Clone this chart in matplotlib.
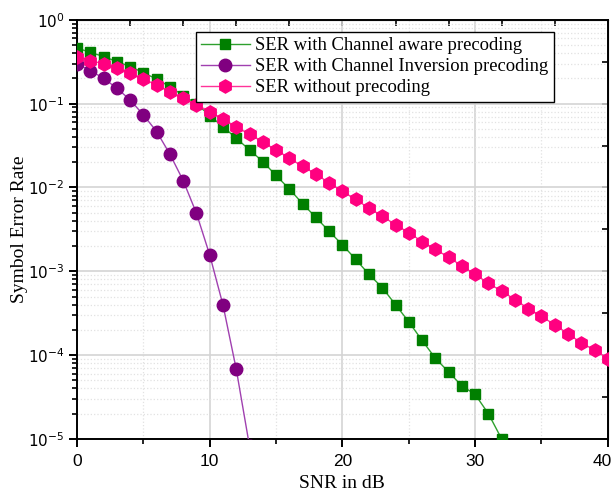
import numpy as np
import matplotlib
matplotlib.use("Agg")
from matplotlib import pyplot as plt
from matplotlib import transforms
from matplotlib.ticker import LogLocator, FixedLocator, NullFormatter

# SNR in dB
snr = list(range(0, 41))

# SER with channel aware precoding (0..32 dB)
ser_aware = [0.46, 0.41, 0.365, 0.318, 0.277, 0.235, 0.196, 0.160, 0.125, 0.100,
             0.072, 0.053, 0.0387, 0.0281, 0.0204, 0.0139, 0.0096, 0.0064, 0.0044, 0.0030,
             0.00207, 0.00139, 0.00092, 0.00064, 0.00040, 0.00025, 0.000150, 0.000092,
             0.000063, 0.000043, 0.000034, 0.000020, 0.000010]

# SER with channel inversion precoding (0..13 dB)
ser_inversion = [0.298, 0.248, 0.201, 0.153, 0.111, 0.0735, 0.0465, 0.025, 0.0121,
                 0.00493, 0.00157, 0.000397, 0.000068, 0.0000082]

# SER without precoding (0..40 dB)
ser_none = [0.365, 0.327, 0.298, 0.265, 0.231, 0.196, 0.168, 0.139, 0.116, 0.097,
            0.080, 0.0653, 0.0525, 0.0433, 0.0347, 0.0281, 0.0224, 0.0178, 0.0145, 0.0113,
            0.0090, 0.0072, 0.00566, 0.00458, 0.00358, 0.0029, 0.00226, 0.00183, 0.00147,
            0.00116, 0.00092, 0.00072, 0.00058, 0.00046, 0.00036, 0.00029, 0.00023,
            0.00018, 0.00014, 0.000115, 0.000091]

labels = ['SER with Channel aware precoding',
          'SER with Channel Inversion precoding',
          'SER without precoding']

plt.rcParams['mathtext.fontset'] = 'stix'
serif = 'Liberation Serif'
sans = 'Liberation Sans'

fig = plt.figure(figsize=(6.13, 4.96), dpi=100)
ax = fig.add_axes([0.1256, 0.115, 0.866, 0.845])

ax.plot(snr[:len(ser_aware)], ser_aware, '-s', color='#2ea02e', lw=1,
        mfc='#007f00', mec='#007f00', ms=7.5, label=labels[0], zorder=3)
ax.plot(snr[:len(ser_inversion)], ser_inversion, '-o', color='#a040b0', lw=1,
        mfc='#800080', mec='#800080', ms=9, label=labels[1], zorder=3)
ax.plot(snr, ser_none, '-h', color='#ff3399', lw=1,
        mfc='#ff0080', mec='#ff0080', ms=9.5, label=labels[2], zorder=3)

ax.set_yscale('log')
ax.set_xlim(0, 40)
ax.set_ylim(1e-5, 1)

ax.xaxis.set_major_locator(FixedLocator([0, 10, 20, 30, 40]))
ax.xaxis.set_minor_locator(FixedLocator([5, 15, 25, 35]))
ax.yaxis.set_major_locator(LogLocator(base=10, numticks=10))
ax.yaxis.set_minor_locator(LogLocator(base=10, subs=np.arange(2, 10), numticks=20))
ax.yaxis.set_minor_formatter(NullFormatter())

ax.grid(which='major', color='#d4d4d4', lw=1.2, ls='-', zorder=0)
ax.grid(which='minor', color='#e2e2e2', lw=0.9, ls=':', zorder=0)
ax.set_axisbelow(True)

for s in ax.spines.values():
    s.set_linewidth(1.4)

ax.tick_params(which='major', direction='out', length=6, width=1.4, top=False, right=False)
ax.tick_params(which='minor', direction='out', length=3.5, width=1.2, top=False, right=False)
ax.tick_params(axis='x', labelsize=12.5, pad=5)
ax.tick_params(axis='y', labelsize=11, pad=3)
for t in ax.get_xticklabels():
    t.set_fontfamily(sans)
# keep the last tick label inside the figure edge
last = ax.get_xticklabels()[-1]
last.set_transform(last.get_transform() +
                   transforms.ScaledTranslation(-6 / 100, 0, fig.dpi_scale_trans))

# mirrored ticks on top and right
axt = ax.secondary_xaxis('top')
axt.set_xticks(np.arange(0, 41, 4))
axt.tick_params(direction='in', length=4, width=1.2, labeltop=False)
axr = ax.secondary_yaxis('right')
axr.yaxis.set_major_locator(FixedLocator(10.0 ** np.arange(-4.5, 0, 0.5)))
axr.yaxis.set_minor_locator(FixedLocator([]))
axr.tick_params(direction='in', length=4, width=1.2, labelright=False)

ax.set_xlabel('SNR in dB', family=serif, fontsize=14, labelpad=4)
ax.set_ylabel('Symbol Error Rate', family=serif, fontsize=14, labelpad=0)

leg = ax.legend(loc='upper left', bbox_to_anchor=(0.224, 0.971), borderaxespad=0,
                prop={'family': serif, 'size': 13.4}, frameon=True, fancybox=False,
                edgecolor='black', framealpha=1, handlelength=2.6, handletextpad=0.3,
                labelspacing=0.22, borderpad=0.28)
leg.get_frame().set_linewidth(1.0)

fig.savefig('out.png', dpi=100)
